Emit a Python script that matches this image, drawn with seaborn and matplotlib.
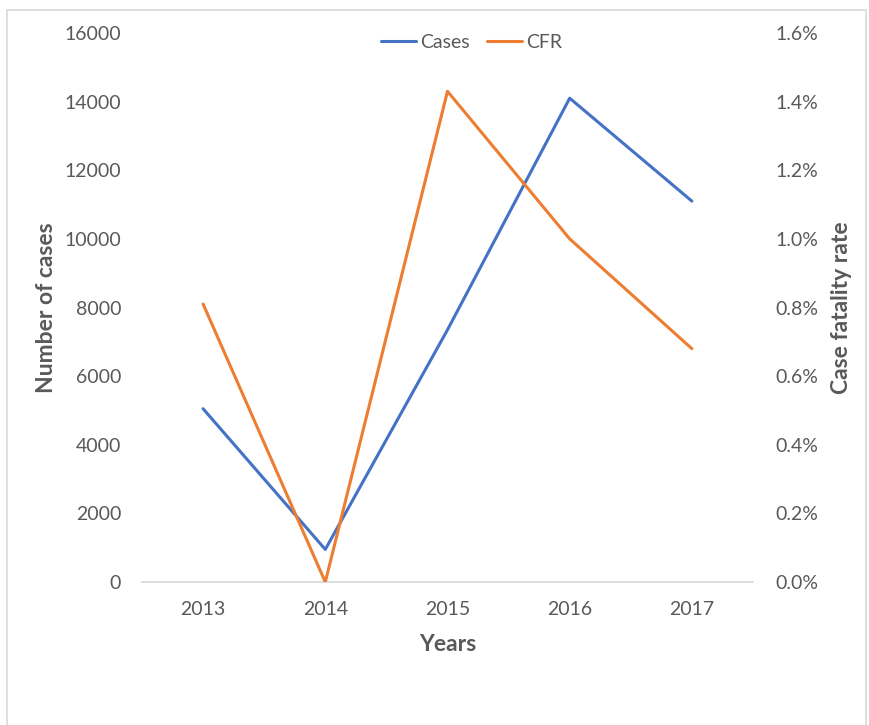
import matplotlib
matplotlib.use("Agg")
import matplotlib.pyplot as plt
import matplotlib.patches as mpatches
from matplotlib.ticker import FuncFormatter
import pandas as pd
import seaborn as sns

years = ["2013", "2014", "2015", "2016", "2017"]
cases = [5050, 950, 7350, 14100, 11100]
cfr = [0.81, 0.0, 1.43, 1.0, 0.68]  # percent

BLUE = "#4472C4"
ORANGE = "#ED7D31"
GREY = "#595959"

sns.set_theme(style="white")
plt.rcParams["font.family"] = ["Lato", "DejaVu Sans"]

df = pd.DataFrame({"year": years, "cases": cases, "cfr": cfr})

fig = plt.figure(figsize=(8.69, 7.25), dpi=100)
# light frame around the chart area
fig.patches.append(mpatches.Rectangle((0.008, -0.02), 0.988, 1.006, transform=fig.transFigure,
                                      fill=False, edgecolor="#d9d9d9", linewidth=1.2))
ax = fig.add_axes([0.1634, 0.1972, 0.7031, 0.7573])
ax2 = ax.twinx()

sns.lineplot(data=df, x="year", y="cases", ax=ax, color=BLUE, linewidth=2.2, label="Cases", legend=False)
sns.lineplot(data=df, x="year", y="cfr", ax=ax2, color=ORANGE, linewidth=2.2, label="CFR", legend=False)

ax.set_xlim(-0.5, 4.5)
ax.set_ylim(0, 16000)
ax.set_yticks(range(0, 16001, 2000))
ax2.set_ylim(0, 1.6)
ax2.set_yticks([i * 0.2 for i in range(9)])
ax2.yaxis.set_major_formatter(FuncFormatter(lambda v, p: f"{v:.1f}%"))

for a in (ax, ax2):
    for s in a.spines.values():
        s.set_visible(False)
    a.tick_params(length=0, labelsize=14, labelcolor=GREY)
ax.spines["bottom"].set_visible(True)
ax.spines["bottom"].set_color("#d9d9d9")
ax.tick_params(axis="x", pad=14)
ax.tick_params(axis="y", pad=15)
ax2.tick_params(axis="y", pad=16)

ax.set_xlabel("Years", fontsize=16.5, fontweight="bold", color=GREY, labelpad=11)
ax.set_ylabel("Number of cases", fontsize=16.5, fontweight="bold", color=GREY, labelpad=5)
ax2.set_ylabel("Case fatality rate", fontsize=16.5, fontweight="bold", color=GREY, labelpad=9)

h1, l1 = ax.get_legend_handles_labels()
h2, l2 = ax2.get_legend_handles_labels()
leg = ax2.legend(h1 + h2, l1 + l2, loc="upper center", bbox_to_anchor=(0.54, 1.03), ncol=2,
                 frameon=False, fontsize=14, handlelength=1.8, columnspacing=0.9, handletextpad=0.2)
for t in leg.get_texts():
    t.set_color(GREY)

fig.savefig("out.png", dpi=100)
